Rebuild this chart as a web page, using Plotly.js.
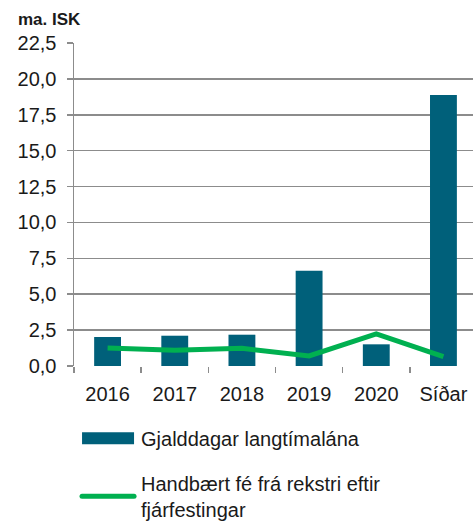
<!DOCTYPE html>
<html>
<head>
<meta charset="utf-8">
<script src="https://cdn.plot.ly/plotly-3.0.1.min.js"></script>
<style>html,body{margin:0;padding:0;background:#fff;}#chart{width:473px;height:522px;}</style>
</head>
<body>
<div id="chart"></div>
<script>
const categories = ["2016", "2017", "2018", "2019", "2020", "Síðar"];
const loanMaturities = [2.02, 2.11, 2.18, 6.64, 1.51, 18.87];
const freeCashFlow = [1.25, 1.09, 1.23, 0.70, 2.23, 0.65];
const seriesNames = ["Gjalddagar langtímalána", "Handbært fé frá rekstri eftir<br>fjárfestingar"];
const unitLabel = "ma. ISK";

const FONT = "Liberation Sans, Arial, sans-serif";

const traces = [
  {
    type: "bar",
    x: categories,
    y: loanMaturities,
    name: seriesNames[0],
    marker: {color: "#00607a"},
    width: 0.4,
    legendgroup: "a",
    hoverinfo: "x+y"
  },
  {
    type: "scatter",
    mode: "lines",
    x: categories,
    y: freeCashFlow,
    name: seriesNames[1],
    line: {color: "#00b050", width: 5},
    legendgroup: "b",
    hoverinfo: "x+y"
  }
];

const layout = {
  width: 473,
  height: 522,
  margin: {l: 74, r: 0, t: 43, b: 156, autoexpand: false},
  paper_bgcolor: "#ffffff",
  plot_bgcolor: "#ffffff",
  separators: ",.",
  font: {family: FONT, color: "#1a1a1a", size: 19},
  showlegend: true,
  legend: {
    orientation: "v",
    xref: "container",
    yref: "container",
    x: 0.165,
    xanchor: "left",
    y: 0.198,
    yanchor: "top",
    itemwidth: 53,
    font: {family: FONT, size: 20, color: "#1a1a1a"},
    tracegroupgap: 16,
    bgcolor: "rgba(0,0,0,0)"
  },
  xaxis: {
    type: "category",
    range: [-0.5, 5.44],
    showgrid: false,
    showline: false,
    ticks: "outside",
    tickson: "boundaries",
    ticklen: 6,
    tickwidth: 1.5,
    tickcolor: "#8c8c8c",
    ticklabelstandoff: 14,
    tickfont: {family: FONT, size: 20, color: "#1a1a1a"},
    zeroline: false,
    fixedrange: true
  },
  yaxis: {
    range: [0, 22.5],
    dtick: 2.5,
    tick0: 0,
    tickformat: ".1f",
    showgrid: true,
    gridcolor: "#8c8c8c",
    gridwidth: 1.5,
    showline: true,
    linecolor: "#8c8c8c",
    linewidth: 1.5,
    ticks: "outside",
    ticklen: 6,
    tickwidth: 1.5,
    tickcolor: "#8c8c8c",
    ticklabelstandoff: 6,
    tickfont: {family: FONT, size: 20, color: "#1a1a1a"},
    zeroline: false,
    fixedrange: true
  },
  annotations: [
    {
      text: "<b>" + unitLabel + "</b>",
      xref: "paper", yref: "paper",
      x: -0.145, y: 1.0,
      xanchor: "left", yanchor: "bottom",
      yshift: 12,
      showarrow: false,
      font: {family: FONT, size: 17, color: "#1a1a1a"}
    }
  ]
};

function widenLegendSymbols(gd) {
  gd.querySelectorAll("g.legend g.traces").forEach(function (item) {
    const text = item.querySelector("text.legendtext");
    if (!text) return;
    const tl = text.getBoundingClientRect().left;
    const x0 = tl - 59, x1 = tl - 7;
    item.querySelectorAll("path").forEach(function (p) {
      const d = p.getAttribute("d");
      if (!d || d === "M0,0Z") return;
      const r = p.getBoundingClientRect();
      if (r.width === 0 && r.height === 0) return;
      const cy = (r.top + r.bottom) / 2;
      const isBar = p.classList.contains("legendbar") || (r.height > 4 && r.width < 20);
      const M = p.parentNode.getScreenCTM();
      p.removeAttribute("transform");
      const lx0 = x0 - M.e, lx1 = x1 - M.e, ly = cy - M.f;
      if (isBar) {
        p.setAttribute("d", "M" + lx0 + "," + (ly - 6) + "H" + lx1 + "V" + (ly + 6) + "H" + lx0 + "Z");
      } else {
        p.setAttribute("d", "M" + lx0 + "," + ly + "H" + lx1);
        p.style.strokeLinecap = "round";
      }
    });
  });
}

Plotly.newPlot("chart", traces, layout, {displayModeBar: false, staticPlot: true})
  .then(widenLegendSymbols);
</script>
</body>
</html>
